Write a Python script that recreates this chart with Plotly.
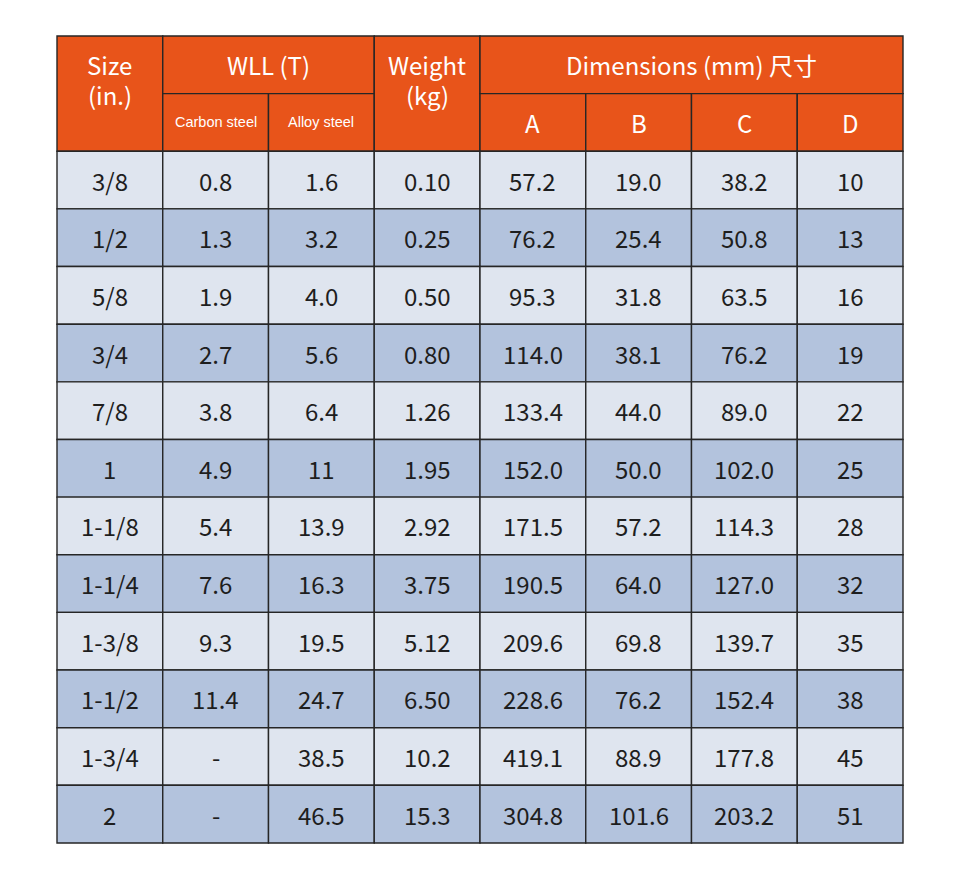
import plotly.graph_objects as go

# table data
sizes = ["3/8", "1/2", "5/8", "3/4", "7/8", "1", "1-1/8", "1-1/4", "1-3/8", "1-1/2", "1-3/4", "2"]
carbon_wll = ["0.8", "1.3", "1.9", "2.7", "3.8", "4.9", "5.4", "7.6", "9.3", "11.4", "-", "-"]
alloy_wll = ["1.6", "3.2", "4.0", "5.6", "6.4", "11", "13.9", "16.3", "19.5", "24.7", "38.5", "46.5"]
weights = ["0.10", "0.25", "0.50", "0.80", "1.26", "1.95", "2.92", "3.75", "5.12", "6.50", "10.2", "15.3"]
dim_a = ["57.2", "76.2", "95.3", "114.0", "133.4", "152.0", "171.5", "190.5", "209.6", "228.6", "419.1", "304.8"]
dim_b = ["19.0", "25.4", "31.8", "38.1", "44.0", "50.0", "57.2", "64.0", "69.8", "76.2", "88.9", "101.6"]
dim_c = ["38.2", "50.8", "63.5", "76.2", "89.0", "102.0", "114.3", "127.0", "139.7", "152.4", "177.8", "203.2"]
dim_d = ["10", "13", "16", "19", "22", "25", "28", "32", "35", "38", "45", "51"]

columns = [sizes, carbon_wll, alloy_wll, weights, dim_a, dim_b, dim_c, dim_d]

# layout constants (pixel-like data units; page body adds ~8px offset)
X0, COL_W = 49, 105.75
Y0, ROW_H = 28, 57.64
ORANGE = "#E8541A"
LIGHT = "#DFE5EF"
DARK = "#B3C3DD"
LINE = "#262626"
FONT = "Noto Sans CJK SC"


def cx(c):
    return X0 + COL_W * c


def ry(r):
    return Y0 + ROW_H * r


fig = go.Figure()
shapes = []
annotations = []


def cell(c0, c1, r0, r1, fill):
    shapes.append(dict(type="rect", xref="x", yref="y",
                       x0=cx(c0), x1=cx(c1), y0=ry(r0), y1=ry(r1),
                       fillcolor=fill, line=dict(color=LINE, width=1.4), layer="below"))


def label(text, xc, yc, size, color, family=FONT):
    annotations.append(dict(x=xc, y=yc, xref="x", yref="y", text=text, showarrow=False,
                            font=dict(size=size, color=color, family=family),
                            xanchor="center", yanchor="middle"))


# header cells
cell(0, 1, 0, 2, ORANGE)
cell(1, 3, 0, 1, ORANGE)
cell(1, 2, 1, 2, ORANGE)
cell(2, 3, 1, 2, ORANGE)
cell(3, 4, 0, 2, ORANGE)
cell(4, 8, 0, 1, ORANGE)
for c in range(4, 8):
    cell(c, c + 1, 1, 2, ORANGE)

# two-line headers drawn as separate lines
label("Size", cx(0.5), ry(0.49), 24, "white")
label("(in.)", cx(0.5), ry(1.02), 24, "white")
label("Weight", cx(3.5), ry(0.49), 24, "white")
label("(kg)", cx(3.5), ry(1.02), 24, "white")
label("WLL (T)", cx(2), ry(0.5), 24, "white")
label("Dimensions (mm) 尺寸", cx(6), ry(0.5), 24, "white")
label("Carbon steel", cx(1.5), ry(1.5), 14.5, "white", "Liberation Sans")
label("Alloy steel", cx(2.5), ry(1.5), 14.5, "white", "Liberation Sans")
for i, t in enumerate(["A", "B", "C", "D"]):
    label(t, cx(4.5 + i), ry(1.5), 24, "white")

# body cells
for r in range(len(sizes)):
    fill = LIGHT if r % 2 == 0 else DARK
    for c, col in enumerate(columns):
        cell(c, c + 1, r + 2, r + 3, fill)
        label(col[r], cx(c + 0.5), ry(r + 2.5), 24, "#1e1e1e")

# invisible trace so axes exist
fig.add_trace(go.Scatter(x=[0, 960], y=[0, 896], mode="markers",
                         marker=dict(opacity=0), hoverinfo="skip", showlegend=False))

fig.update_layout(
    width=960, height=896,
    margin=dict(l=0, r=0, t=0, b=0),
    paper_bgcolor="white", plot_bgcolor="white",
    shapes=shapes, annotations=annotations,
    xaxis=dict(range=[0, 960], visible=False, fixedrange=True),
    yaxis=dict(range=[896, 0], visible=False, fixedrange=True),
    showlegend=False,
)

fig.write_html("out.html")
